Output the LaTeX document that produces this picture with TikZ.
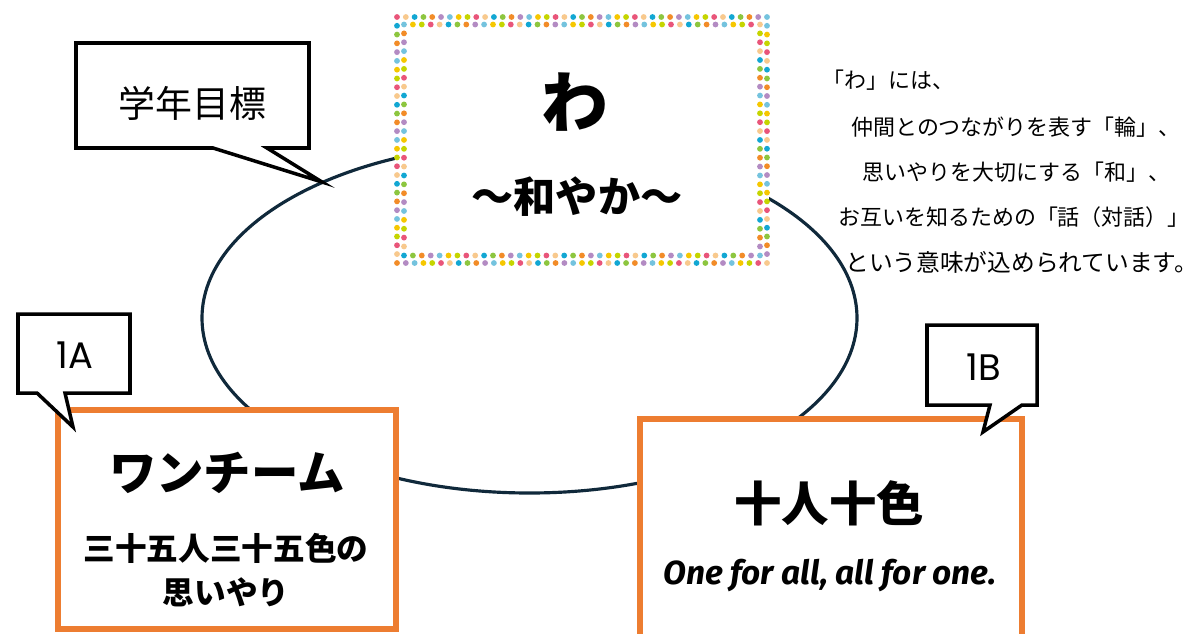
\documentclass[tikz,border=0pt]{standalone}
\usepackage{fontspec}
\usepackage{xcolor}
\newfontfamily\jp{Noto Sans CJK JP}
\newfontfamily\tagfont{Poppins}
\newfontfamily\motto{Fira Sans}
\definecolor{ringblue}{HTML}{10293B}
\definecolor{boxorange}{HTML}{ED7D31}
\definecolor{dot0}{HTML}{E9557A}
\definecolor{dot1}{HTML}{F8C98D}
\definecolor{dot2}{HTML}{12A7D3}
\definecolor{dot3}{HTML}{8DC63F}
\definecolor{dot4}{HTML}{F28C28}
\definecolor{dot5}{HTML}{B38BC3}
\definecolor{dot6}{HTML}{74C3DE}
\definecolor{dot7}{HTML}{F6C700}
\definecolor{dot8}{HTML}{C5D500}
\tikzset{
  ring/.style={draw=ringblue, line width=1.8pt},
  classbox/.style={draw=boxorange, line width=3.4pt, fill=white, inner sep=0pt},
  talk/.style={draw=black, line width=2pt, fill=white, line join=miter},
  tagtext/.style={font=\tagfont\fontsize{21}{24}\selectfont},
  notetext/.style={anchor=west, inner sep=0pt, font=\jp\fontsize{12.5}{15}\selectfont},
}
\begin{document}
\begin{tikzpicture}[x=0.02cm, y=-0.02cm]
\useasboundingbox (0,0) rectangle (1198,633);
% the ring
\draw[ring] (529.5,318) ellipse [x radius=327.5, y radius=175];

% goal box with dotted frame
\node[fill=white, minimum width=7.5cm, minimum height=5cm] (wabox) at (582,140) {};
\foreach \i in {0,...,42}{
  \pgfmathtruncatemacro\k{mod(\i,9)}
  \pgfmathtruncatemacro\m{mod(\i+4,9)}
  \fill[dot\k] (397+8.81*\i,17) circle (2.9);
  \fill[dot\m] (397+8.81*\i,263) circle (2.9);
}
\foreach \i in {0,...,40}{
  \pgfmathtruncatemacro\k{mod(\i+6,9)}
  \pgfmathtruncatemacro\m{mod(\i+2,9)}
  \fill[dot\k] (404+8.9*\i,24.5) circle (2.9);
  \fill[dot\m] (404+8.9*\i,255.5) circle (2.9);
}
\foreach \j in {1,...,27}{
  \pgfmathtruncatemacro\k{mod(\j+1,9)}
  \pgfmathtruncatemacro\m{mod(\j+5,9)}
  \fill[dot\k] (397,17+8.78*\j) circle (2.9);
  \fill[dot\m] (767,17+8.78*\j) circle (2.9);
}
\foreach \j in {1,...,25}{
  \pgfmathtruncatemacro\k{mod(\j+3,9)}
  \pgfmathtruncatemacro\m{mod(\j+7,9)}
  \fill[dot\k] (404,24.5+8.88*\j) circle (2.9);
  \fill[dot\m] (760,24.5+8.88*\j) circle (2.9);
}
\node[font=\jp\bfseries\fontsize{38}{40}\selectfont] (wa) at (575,102) {わ};
\node[font=\jp\bfseries\fontsize{24}{28}\selectfont] (nagoyaka) at (577,197) {～和やか～};

% note on the right
\node[notetext] (note1) at (822,80) {「わ」には、};
\node[notetext] (note2) at (851,127) {仲間とのつながりを表す「輪」、};
\node[notetext] (note3) at (862,172) {思いやりを大切にする「和」、};
\node[notetext] (note4) at (838,217) {お互いを知るための「話（対話）」};
\node[notetext, font=\jp\fontsize{13.5}{15}\selectfont] (note5) at (845,262) {という意味が込められています。};

% class boxes
\node[classbox, minimum width=6.76cm, minimum height=4.38cm] (boxA) at (227,519.5) {};
\node[font=\jp\bfseries\fontsize{27}{30}\selectfont] (teamA) at (227,473) {ワンチーム};
\node[font=\jp\bfseries\fontsize{18}{25}\selectfont, align=center] (mottoA) at (226,570) {三十五人三十五色の\\思いやり};
\node[classbox, minimum width=7.64cm, minimum height=4.82cm] (boxB) at (831,539.5) {};
\node[font=\jp\bfseries\fontsize{27}{30}\selectfont] (teamB) at (829,503) {十人十色};
\node[font=\motto\bfseries\itshape\fontsize{19}{22}\selectfont] (mottoB) at (830,576) {One for all, all for one.};

% callouts
\coordinate (tipgoal) at (322,182);
\coordinate (tipA) at (73,427);
\coordinate (tipB) at (983,432);
\path[talk] (76,43) -- (309,43) -- (309,148) -- (267,148) -- (tipgoal) -- (213,148) -- (76,148) -- cycle;
\node[font=\jp\fontsize{21}{24}\selectfont] (goal) at (192.5,103) {学年目標};
\path[talk] (18,314) -- (130,314) -- (130,393) -- (65,393) -- (tipA) -- (37,393) -- (18,393) -- cycle;
\node[tagtext] (tagA) at (75,355) {1A};
\path[talk] (927,325) -- (1037,325) -- (1037,405) -- (1022,405) -- (tipB) -- (990,405) -- (927,405) -- cycle;
\node[tagtext] (tagB) at (984,367) {1B};
\end{tikzpicture}
\end{document}
